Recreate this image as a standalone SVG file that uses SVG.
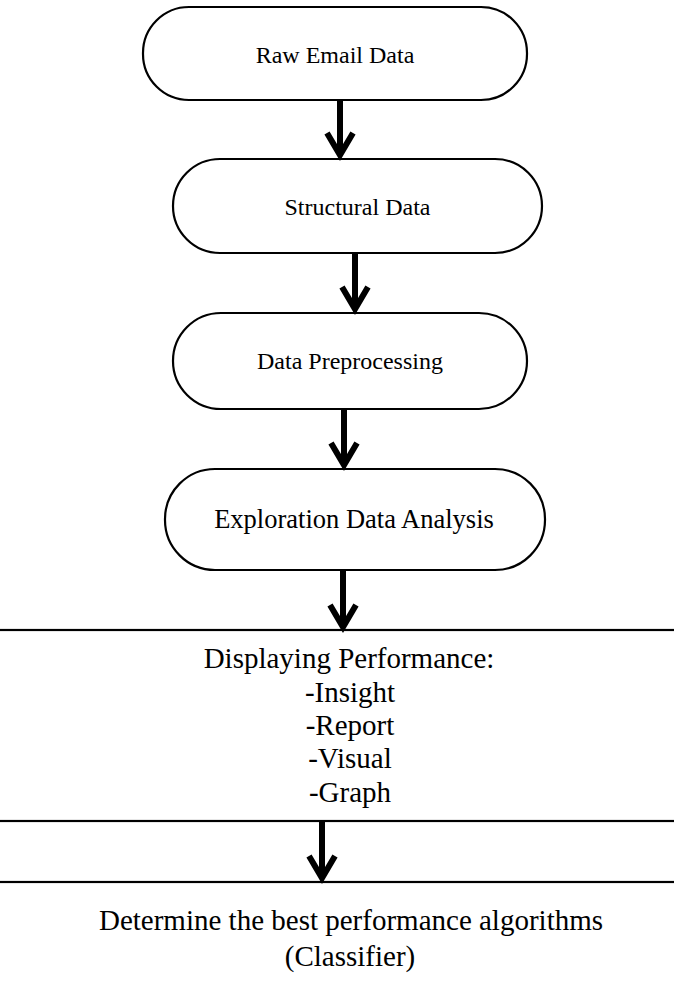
<svg xmlns="http://www.w3.org/2000/svg" width="674" height="1001" viewBox="0 0 674 1001">
<style>
.node{fill:#fff;stroke:#000;stroke-width:2.2}
.t{font-family:"Liberation Serif","Times New Roman",serif;fill:#000;text-anchor:middle}
.c{fill:none;stroke:#000;stroke-width:6}
.h{fill:none;stroke:#000;stroke-width:6;stroke-linecap:butt;stroke-linejoin:miter}
</style>
<rect width="674" height="1001" fill="#fff"/>
<g id="n1"><rect class="node" x="143" y="7" width="384" height="93" rx="46" ry="46"/><text class="t" x="335" y="63" font-size="24">Raw Email Data</text></g>
<g id="n2"><rect class="node" x="173" y="159" width="369" height="94" rx="47" ry="47"/><text class="t" x="357.5" y="215" font-size="24">Structural Data</text></g>
<g id="n3"><rect class="node" x="173" y="313" width="354" height="96" rx="48" ry="48"/><text class="t" x="350" y="369" font-size="24">Data Preprocessing</text></g>
<g id="n4"><rect class="node" x="165" y="469" width="380" height="101" rx="50" ry="50"/><text class="t" x="354" y="528" font-size="26.5">Exploration Data Analysis</text></g>
<g id="n5"><rect class="node" x="-10" y="630" width="700" height="191"/>
<text class="t" font-size="29"><tspan x="349" y="668">Displaying Performance:</tspan><tspan x="350" y="702">-Insight</tspan><tspan x="350" y="735">-Report</tspan><tspan x="350" y="768">-Visual</tspan><tspan x="350" y="802">-Graph</tspan></text></g>
<g id="n6"><rect class="node" x="-10" y="882" width="700" height="140"/>
<text class="t" font-size="29"><tspan x="351" y="930">Determine the best performance algorithms</tspan><tspan x="350" y="966">(Classifier)</tspan></text></g>
<g id="connectors">
<line class="c" x1="340" y1="100" x2="340" y2="155"/><path class="h" d="M327,133 L340,155 L353,133"/>
<line class="c" x1="355" y1="253" x2="355" y2="309"/><path class="h" d="M342,287 L355,309 L368,287"/>
<line class="c" x1="344" y1="409" x2="344" y2="465"/><path class="h" d="M331,443 L344,465 L357,443"/>
<line class="c" x1="343" y1="570" x2="343" y2="627"/><path class="h" d="M330,605 L343,627 L356,605"/>
<line class="c" x1="322" y1="821" x2="322" y2="878"/><path class="h" d="M309,856 L322,878 L335,856"/>
</g>
</svg>
